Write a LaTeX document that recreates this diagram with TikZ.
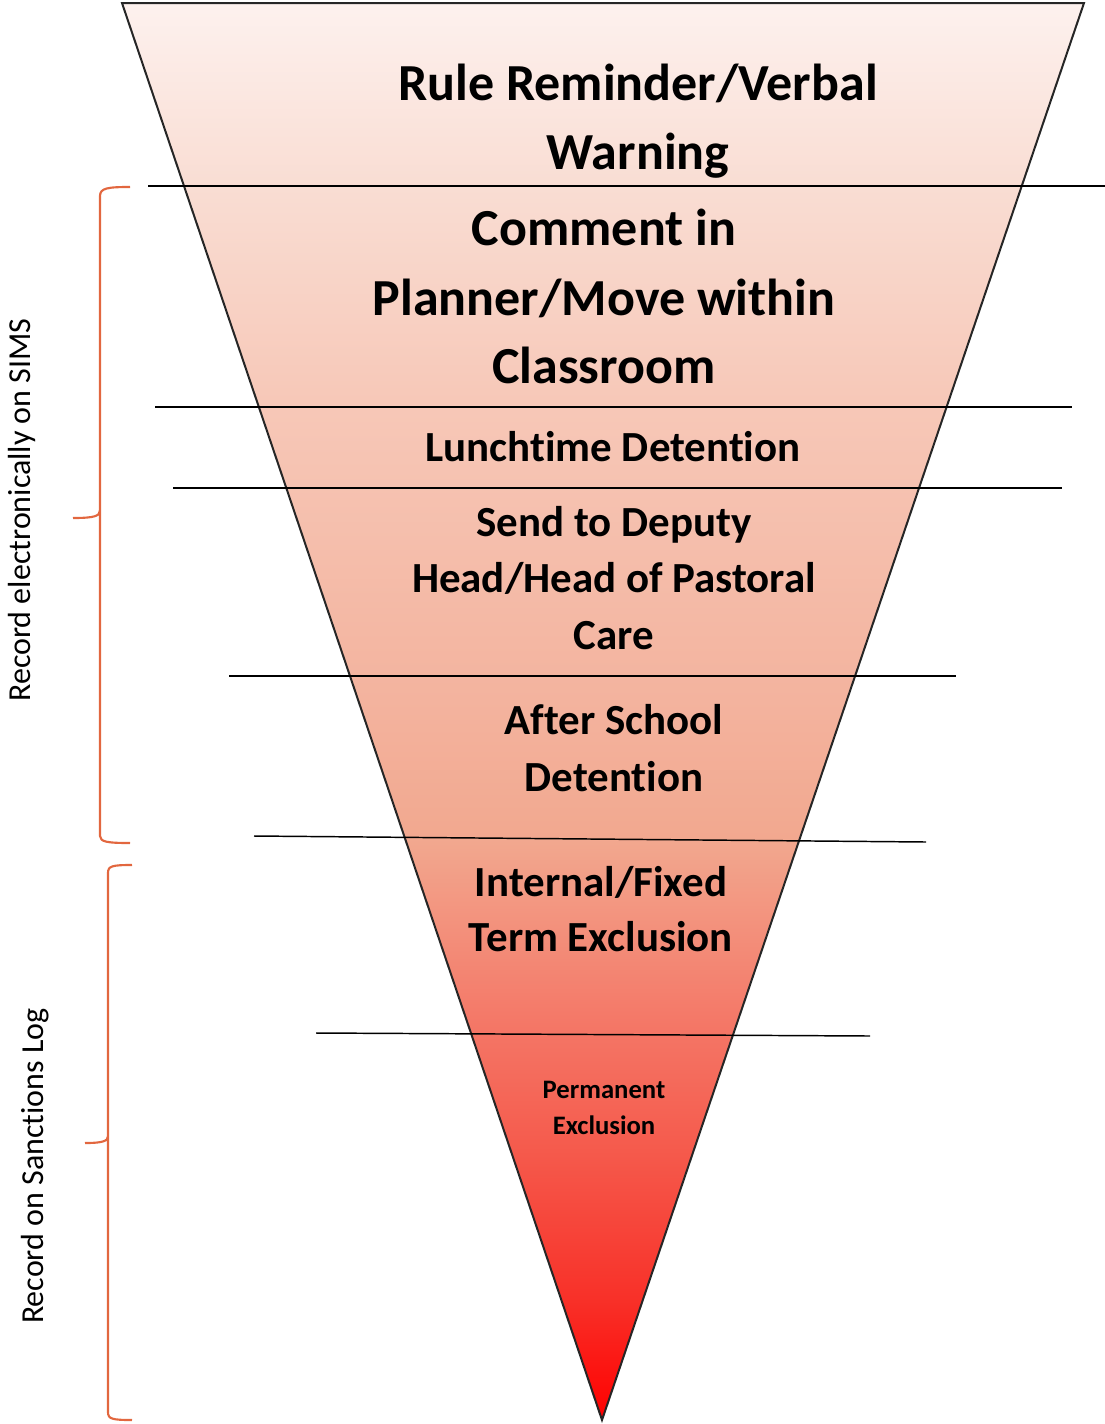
\documentclass[tikz,border=0pt]{standalone}
\usepackage{fontspec}
\setmainfont[Ligatures={NoCommon,NoRare}]{Carlito}
\definecolor{s0}{HTML}{FF0000}
\definecolor{s1}{HTML}{F83028}
\definecolor{s2}{HTML}{F55A4C}
\definecolor{s3}{HTML}{F47565}
\definecolor{s4}{HTML}{F2A88F}
\definecolor{s5}{HTML}{F3B39E}
\definecolor{s6}{HTML}{F7C8B8}
\definecolor{s7}{HTML}{F9DDD3}
\definecolor{s8}{HTML}{FDF1EE}
\definecolor{bracecol}{HTML}{E2673F}
% funnel fill, bottom (red tip) to top (pale pink)
\pgfdeclareverticalshading{funnelshade}{100bp}{%
  color(0bp)=(s0); color(25bp)=(s0); color(29.2bp)=(s1); color(34.5bp)=(s2);
  color(38.7bp)=(s3); color(45.5bp)=(s4); color(50.4bp)=(s5); color(61bp)=(s6);
  color(68.5bp)=(s7); color(75bp)=(s8); color(100bp)=(s8)}
\tikzset{
  big/.style={font=\bfseries\fontsize{39}{47}\selectfont, anchor=base, inner sep=0pt},
  mid/.style={font=\bfseries\fontsize{32.2}{38}\selectfont, anchor=base, inner sep=0pt},
  small/.style={font=\bfseries\fontsize{20}{24}\selectfont, anchor=base, inner sep=0pt},
  side/.style={font=\fontsize{24}{28}\selectfont, rotate=90, inner sep=0pt},
  divider/.style={line width=1.1pt, black},
  bracket/.style={line width=1.6pt, bracecol, line join=round}
}
\begin{document}
\begin{tikzpicture}[x=0.75pt,y=-0.75pt]
\useasboundingbox (0,0) rectangle (1105,1424);
% the funnel
\coordinate (tl) at (122,3);
\coordinate (tr) at (1084,3);
\coordinate (tip) at (602,1420);
\shade[shading=funnelshade] (tl) -- (tr) -- (tip) -- cycle;
\draw[line width=1.5pt, line join=miter, black!85] (tl) -- (tr) -- (tip) -- cycle;
% level dividers
\coordinate (d1a) at (148,186);  \coordinate (d1b) at (1105,186);
\coordinate (d2a) at (155,407);  \coordinate (d2b) at (1072,407);
\coordinate (d3a) at (173,488);  \coordinate (d3b) at (1062,488);
\coordinate (d4a) at (229,676);  \coordinate (d4b) at (956,676);
\coordinate (d5a) at (254,836);  \coordinate (d5b) at (926,842);
\coordinate (d6a) at (316,1033); \coordinate (d6b) at (870,1036);
\foreach \i in {1,...,6} \draw[divider] (d\i a) -- (d\i b);
% level labels
\node[big] (r1) at (638,100) {Rule Reminder/Verbal};
\node[big] (r2) at (638,169) {Warning};
\node[big] (c1) at (604,245) {Comment in};
\node[big] (c2) at (604,315) {Planner/Move within};
\node[big] (c3) at (604,383) {Classroom};
\node[mid] (l1) at (613,461) {Lunchtime Detention};
\node[mid] (s1) at (614,536) {Send to Deputy};
\node[mid] (s2) at (614,592) {Head/Head of Pastoral};
\node[mid] (s3) at (614,649) {Care};
\node[mid] (a1) at (614,734) {After School};
\node[mid] (a2) at (614,791) {Detention};
\node[mid] (i1) at (601,896) {Internal/Fixed};
\node[mid] (i2) at (601,951) {Term Exclusion};
\node[small] (p1) at (604,1098) {Permanent};
\node[small] (p2) at (604,1134) {Exclusion};
% recording brackets
\draw[bracket] (130,187) .. controls (108,187) and (100,188) .. (100,196)
  -- (100,510) .. controls (100,516) and (95,518) .. (73,518)
  (100,510) -- (100,836) .. controls (100,842) and (108,843) .. (130,843);
\draw[bracket] (132,865) .. controls (112,865) and (108,866) .. (108,873)
  -- (108,1136) .. controls (108,1141) and (103,1143) .. (85,1143)
  (108,1136) -- (108,1412) .. controls (108,1419) and (112,1420) .. (132,1420);
\node[side] (sims) at (22,510) {Record electronically on SIMS};
\node[side] (slog) at (35,1166) {Record on Sanctions Log};
\end{tikzpicture}
\end{document}
